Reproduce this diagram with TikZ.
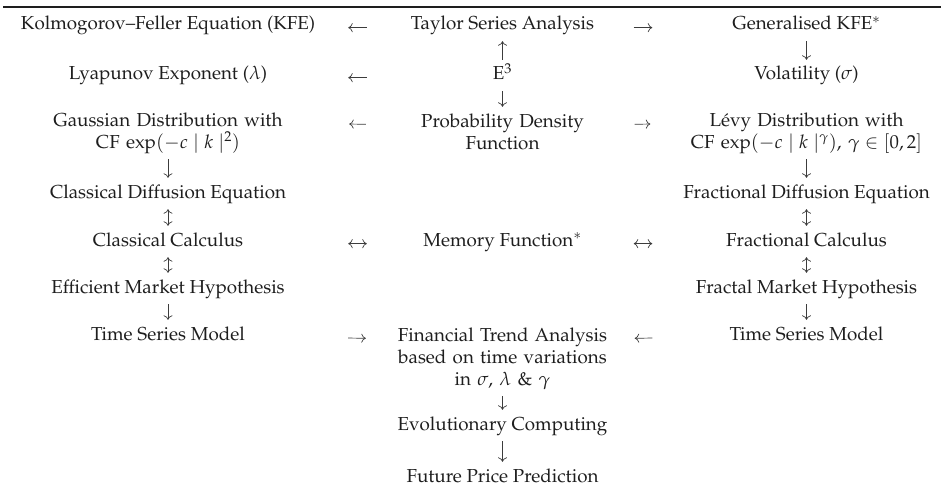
\documentclass[tikz,border=0pt]{standalone}
\usepackage[T1]{fontenc}
\usepackage{mathpazo}
\usepackage{amsmath}
\usepackage{xcolor}
\usepackage{tikz}
\usetikzlibrary{arrows.meta}
\definecolor{inkgrey}{HTML}{1e1e1e}
\definecolor{arrowgrey}{HTML}{3c3c3c}
\tikzstyle{cell} = [inner sep=0pt, anchor=base, align=center, text=inkgrey,
  font=\fontsize{18.8}{22}\selectfont, text height=14pt, text depth=5pt]
\tikzstyle{lcell} = [cell, minimum width=300pt]
\tikzstyle{mcell} = [cell, minimum width=211pt]
\tikzstyle{rcell} = [cell, minimum width=257pt]
\tikzstyle{lblock} = [lcell, text width=302pt]
\tikzstyle{mblock} = [mcell, text width=213pt]
\tikzstyle{rblock} = [rcell, text width=261pt]
\tikzstyle{twoline} = [text depth=27pt]
\tikzstyle{threeline} = [text depth=49pt]
\tikzstyle{arrow} = [draw=arrowgrey, line width=0.7pt,
  >={Computer Modern Rightarrow[length=4.5pt, width=9pt]}]
\tikzstyle{vgap} = [shorten <=6pt, shorten >=6pt]
\tikzstyle{lgap} = [shorten <=30pt, shorten >=30pt]
\tikzstyle{rgap} = [shorten <=25.5pt, shorten >=25.5pt]

\begin{document}
\begin{tikzpicture}[x=1pt, y=-1pt]
  \useasboundingbox (0,0) rectangle (941,492);
  \draw[inkgrey, line width=1.4pt] (3,7) -- (941,7);

  % left column
  \node (kfe)   [lcell] at (168,30)  {Kolmogorov--Feller Equation (KFE)};
  \node (lya)   [lcell] at (168,80)  {Lyapunov Exponent ($\lambda$)};
  \node (gauss) [lblock, twoline] at (168,126) {Gaussian Distribution with\\\mbox{CF $\exp(-c\mid k\mid^2)$}};
  \node (cde)   [lcell] at (168,198) {Classical Diffusion Equation};
  \node (ccalc) [lcell] at (168,246) {Classical Calculus};
  \node (emh)   [lcell] at (168,293) {Efficient Market Hypothesis};
  \node (tsl)   [lcell] at (168,340) {Time Series Model};

  % middle column
  \node (tsa) [mcell] at (502.5,30)  {Taylor Series Analysis};
  \node (ee)  [mcell] at (502.5,80)  {E$^3$};
  \node (pdf) [mblock, twoline] at (502.5,127) {Probability Density\\Function};
  \node (mem) [mcell] at (502.5,246) {Memory Function$^*$};
  \node (fta) [mblock, threeline] at (502.5,341) {Financial Trend Analysis\\based on time variations\\\mbox{in $\sigma$, $\lambda$ \& $\gamma$}};
  \node (evo) [mcell] at (502.5,430) {Evolutionary Computing};
  \node (fpp) [mcell] at (502.5,482) {Future Price Prediction};

  % right column
  \node (gkfe)  [rcell] at (806.5,30)  {Generalised KFE$^*$};
  \node (vol)   [rcell] at (806.5,80)  {Volatility ($\sigma$)};
  \node (levy)  [rblock, twoline] at (806.5,126) {L\'evy Distribution with\\\mbox{CF $\exp(-c\mid k\mid^\gamma)$,\ $\gamma\in[0,2]$}};
  \node (fde)   [rcell] at (806.5,198) {Fractional Diffusion Equation};
  \node (fcalc) [rcell] at (806.5,246) {Fractional Calculus};
  \node (fmh)   [rcell] at (806.5,293) {Fractal Market Hypothesis};
  \node (tsr)   [rcell] at (806.5,340) {Time Series Model};

  % across
  \draw[arrow, lgap, ->] (tsa.mid west) -- (kfe.mid east);
  \draw[arrow, rgap, ->] (tsa.mid east) -- (gkfe.mid west);
  \draw[arrow, lgap, ->] (ee.mid west) -- (lya.mid east);
  \draw[arrow, lgap, ->] (pdf.mid west) -- (gauss.mid east);
  \draw[arrow, rgap, ->] (pdf.mid east) -- (levy.mid west);
  \draw[arrow, lgap, <->] (ccalc.mid east) -- (mem.mid west);
  \draw[arrow, rgap, <->] (mem.mid east) -- (fcalc.mid west);
  \draw[arrow, lgap, ->] (tsl.mid east) -- (fta.mid west);
  \draw[arrow, rgap, ->] (tsr.mid west) -- (fta.mid east);

  % down the columns
  \draw[arrow, vgap, ->] (gauss) -- (cde);
  \draw[arrow, vgap, <->] (cde) -- (ccalc);
  \draw[arrow, vgap, <->] (ccalc) -- (emh);
  \draw[arrow, vgap, ->] (emh) -- (tsl);
  \draw[arrow, vgap, ->] (ee) -- (tsa);
  \draw[arrow, vgap, ->] (ee) -- (pdf);
  \draw[arrow, vgap, ->] (fta) -- (evo);
  \draw[arrow, vgap, ->] (evo) -- (fpp);
  \draw[arrow, vgap, ->] (gkfe) -- (vol);
  \draw[arrow, vgap, ->] (levy) -- (fde);
  \draw[arrow, vgap, <->] (fde) -- (fcalc);
  \draw[arrow, vgap, <->] (fcalc) -- (fmh);
  \draw[arrow, vgap, ->] (fmh) -- (tsr);
\end{tikzpicture}
\end{document}
